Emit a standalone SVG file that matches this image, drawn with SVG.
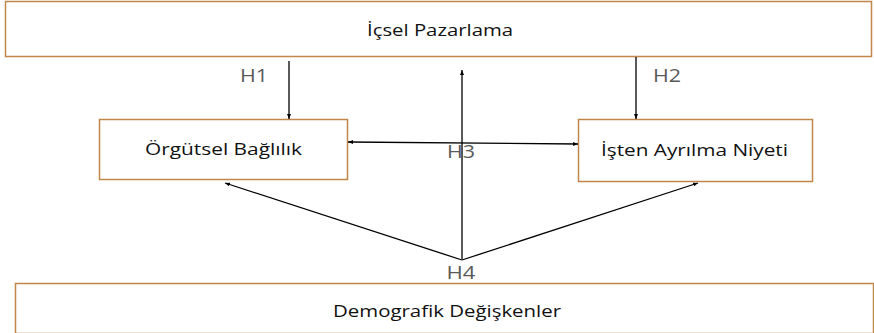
<svg xmlns="http://www.w3.org/2000/svg" width="874" height="333" viewBox="0 0 874 333">
  <defs>
    <marker id="head" viewBox="0 0 10 10" refX="10" refY="5" markerWidth="5" markerHeight="5" orient="auto-start-reverse" markerUnits="userSpaceOnUse">
      <path d="M0,1 L10,5 L0,9 Z" fill="#000"/>
    </marker>
    <style>
      .box { fill: #fff; stroke: #C0864A; stroke-width: 1.5; }
      .label { font-family: "Open Sans", "Liberation Sans", sans-serif; font-size: 16px; fill: #111; text-anchor: middle; }
      .hyp { font-family: "Open Sans", "Liberation Sans", sans-serif; font-size: 18px; fill: #595959; text-anchor: middle; }
      .edge { fill: none; stroke: #000; stroke-width: 1.3; }
    </style>
  </defs>
  <rect width="874" height="333" fill="#fff"/>

  <g id="icsel-pazarlama">
    <rect class="box" x="5.5" y="1.5" width="866" height="55"/>
    <text class="label" x="440" y="36" textLength="146" lengthAdjust="spacingAndGlyphs">İçsel Pazarlama</text>
  </g>

  <g id="orgutsel-baglilik">
    <rect class="box" x="99.5" y="119.5" width="248" height="60"/>
    <text class="label" x="223.5" y="155" textLength="157" lengthAdjust="spacingAndGlyphs">Örgütsel Bağlılık</text>
  </g>

  <g id="isten-ayrilma-niyeti">
    <rect class="box" x="578.5" y="119.5" width="234" height="62"/>
    <text class="label" x="694.5" y="156" textLength="187" lengthAdjust="spacingAndGlyphs">İşten Ayrılma Niyeti</text>
  </g>

  <g id="demografik-degiskenler">
    <rect class="box" x="15.5" y="283.5" width="858" height="50"/>
    <text class="label" x="447" y="317" textLength="228" lengthAdjust="spacingAndGlyphs">Demografik Değişkenler</text>
  </g>

  <g id="connectors">
    <line class="edge" x1="289" y1="61" x2="289" y2="119" marker-end="url(#head)"/>
    <line class="edge" x1="636" y1="57" x2="636" y2="119" marker-end="url(#head)"/>
    <line class="edge" x1="462" y1="259" x2="462" y2="70" marker-end="url(#head)"/>
    <line class="edge" x1="348" y1="142" x2="578" y2="144" marker-start="url(#head)" marker-end="url(#head)"/>
    <line class="edge" x1="462" y1="260" x2="225" y2="183" marker-end="url(#head)"/>
    <line class="edge" x1="462" y1="260" x2="698" y2="183" marker-end="url(#head)"/>
  </g>

  <g id="hypothesis-labels">
    <text class="hyp" x="254" y="82" textLength="28" lengthAdjust="spacingAndGlyphs">H1</text>
    <text class="hyp" x="667" y="82" textLength="28" lengthAdjust="spacingAndGlyphs">H2</text>
    <text class="hyp" x="461" y="158" textLength="28" lengthAdjust="spacingAndGlyphs">H3</text>
    <text class="hyp" x="461" y="279" textLength="29" lengthAdjust="spacingAndGlyphs">H4</text>
  </g>
</svg>
